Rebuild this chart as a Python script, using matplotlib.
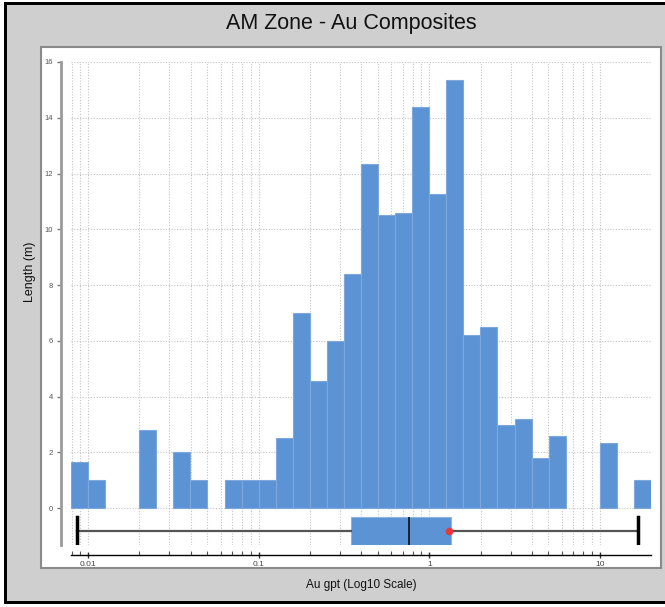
import numpy as np
import matplotlib
matplotlib.use('Agg')
import matplotlib.pyplot as plt
from matplotlib.patches import Rectangle
from matplotlib.ticker import LogLocator, FixedLocator, NullFormatter

plt.rcParams['font.family'] = ['Liberation Sans', 'DejaVu Sans']

# Histogram bins (log10 of Au gpt) and lengths (m)
bin_edges_log = [-2.1, -2.0, -1.9, -1.8, -1.7, -1.6, -1.5, -1.4, -1.3, -1.2, -1.1, -1.0,
                 -0.9, -0.8, -0.7, -0.6, -0.5, -0.4, -0.3, -0.2, -0.1, 0.0, 0.1, 0.2,
                 0.3, 0.4, 0.5, 0.6, 0.7, 0.8, 0.9, 1.0, 1.1, 1.2, 1.3]
lengths = [1.67, 1.0, 0, 0, 2.8, 0, 2.0, 1.0, 0, 1.0, 1.0, 1.0, 2.5, 7.0, 4.55, 6.0,
           8.4, 12.35, 10.5, 10.6, 14.4, 11.25, 15.35, 6.2, 6.5, 3.0, 3.2, 1.8, 2.6,
           0, 0, 2.35, 0, 1.0]

# Box plot summary (Au gpt)
box_min = 0.0086
box_q1 = 0.349
box_median = 0.766
box_q3 = 1.346
box_max = 16.8
box_mean = 1.30

W, H = 665, 607
fig = plt.figure(figsize=(W / 100, H / 100), dpi=100, facecolor='white')


def px(x0, y0, w, h):
    # pixel box (top-left origin) -> figure fraction rect
    return (x0 / W, 1 - (y0 + h) / H, w / W, h / H)


def add_rect(box, **kw):
    r = px(*box)
    fig.patches.append(Rectangle(r[:2], r[2], r[3], transform=fig.transFigure, **kw))


# window frame
add_rect((4, 3, 661, 600), facecolor='#d0cfcf', edgecolor='none', zorder=-3)
for b in [(4, 2, 661, 3), (4, 2, 3, 602), (4, 601, 661, 3)]:
    add_rect(b, facecolor='black', edgecolor='none', zorder=-2)
add_rect((41, 47, 620, 521), facecolor='white', edgecolor='#8a8a8a',
         linewidth=1.5, zorder=-1)

fig.text(351 / W, 1 - 24 / H, 'AM Zone - Au Composites', ha='center', va='center',
         fontsize=15.5, color='#111111')

ax = fig.add_axes([71 / W, 1 - 545 / H, 580 / W, 483 / H])
ax.set_facecolor('none')
ax.set_xscale('log')

edges = 10 ** np.array(bin_edges_log)
heights = np.array(lengths)
keep = heights > 0
lefts = edges[:-1][keep]
widths = (edges[1:] - edges[:-1])[keep]
ax.bar(lefts, heights[keep], width=widths, align='edge', color='#5b93d5',
       edgecolor='#7ea8dc', linewidth=0.8, zorder=2)

stats = [dict(med=box_median, q1=box_q1, q3=box_q3, whislo=box_min,
              whishi=box_max, mean=box_mean)]
ax.bxp(stats, positions=[-0.82], widths=1.0, vert=False, patch_artist=True,
       showmeans=True, showfliers=False, capwidths=1.0,
       boxprops=dict(facecolor='#5b93d5', edgecolor='#8db3e2', linewidth=0.8),
       medianprops=dict(color='#1a1a1a', linewidth=1.3),
       whiskerprops=dict(color='#555555', linewidth=1.6),
       capprops=dict(color='black', linewidth=2.5),
       meanprops=dict(marker='o', markerfacecolor='#e8383d',
                      markeredgecolor='#e8383d', markersize=4.5),
       zorder=3)

ax.set_xlim(10 ** -2.1, 10 ** 1.3)
ax.set_ylim(-1.32, 16)

ax.set_yticks(range(0, 17, 2))
ax.yaxis.set_major_formatter(plt.FuncFormatter(lambda v, p: f'{int(v)}'))
ax.xaxis.set_major_locator(FixedLocator([0.01, 0.1, 1, 10]))
ax.set_xticklabels(['0.01', '0.1', '1', '10'])
ax.xaxis.set_minor_locator(LogLocator(base=10, subs=np.arange(2, 10)))
ax.xaxis.set_minor_formatter(NullFormatter())

ax.grid(True, which='both', axis='x', linestyle=(0, (1, 1.5)), color='#c4c4c4', linewidth=0.8)
ax.grid(True, which='major', axis='y', linestyle=(0, (1, 1.5)), color='#c4c4c4', linewidth=0.8)
ax.set_axisbelow(True)

for s in ['top', 'right']:
    ax.spines[s].set_visible(False)
ax.spines['left'].set_position(('outward', 7.2))
ax.spines['left'].set_color('#9a9a9a')
ax.spines['left'].set_linewidth(2)
ax.spines['bottom'].set_position(('outward', 7.2))
ax.spines['bottom'].set_color('black')
ax.spines['bottom'].set_linewidth(1)

ax.tick_params(axis='y', length=3, width=1, color='#777777', labelsize=5.5,
               labelcolor='#555555', pad=3)
ax.tick_params(axis='x', which='major', length=4, width=1, direction='inout',
               color='#333333', labelsize=6, labelcolor='#444444', pad=2)
ax.tick_params(axis='x', which='minor', length=3, width=0.8, direction='in',
               color='#555555')

fig.text(361 / W, 1 - 585 / H, 'Au gpt (Log10 Scale)', ha='center', va='center',
         fontsize=8.5, color='#111111')
fig.text(30 / W, 1 - 272 / H, 'Length (m)', ha='center', va='center',
         rotation=90, fontsize=9, color='#111111')

fig.savefig('out.png', dpi=100, facecolor=fig.get_facecolor())
